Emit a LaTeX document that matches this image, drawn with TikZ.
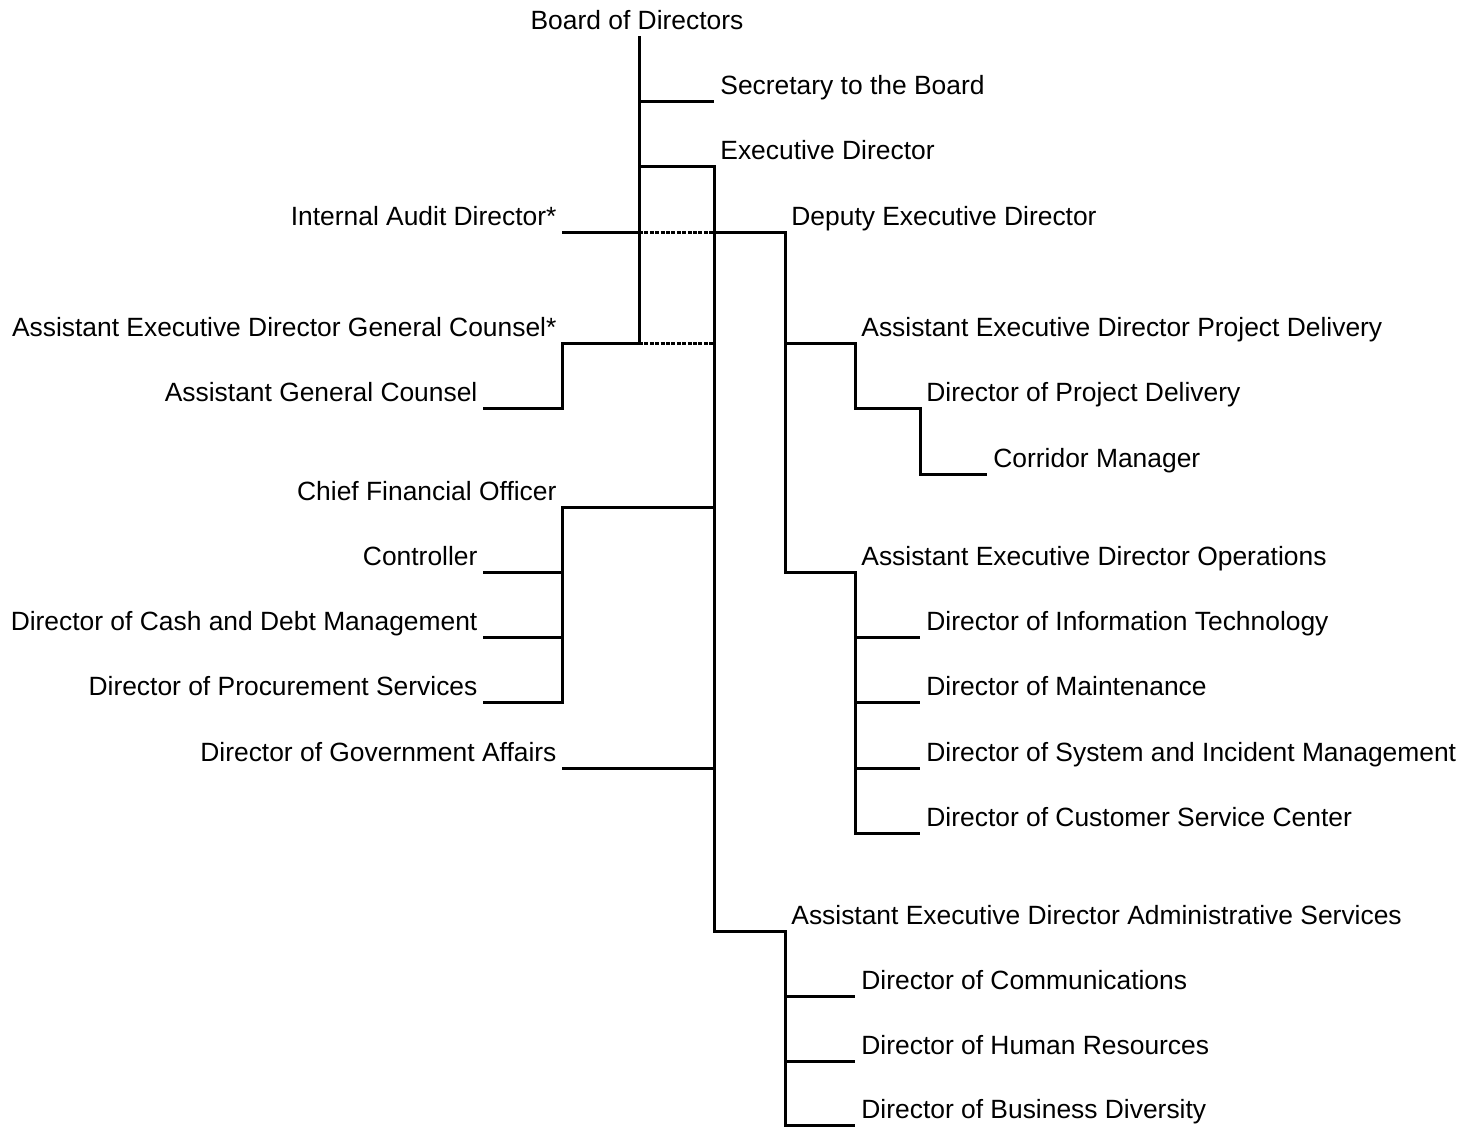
\documentclass[tikz,border=0pt]{standalone}
\usepackage{fontspec}
\setmainfont{Liberation Sans}
\usepackage{tikz}

\begin{document}
\begin{tikzpicture}[x=0.5pt,y=-0.5pt,
  font=\fontsize{13.2}{16}\selectfont,
  rt/.style={anchor=south west,inner xsep=3pt,inner ysep=0pt,text depth=3pt},
  lt/.style={anchor=south east,inner xsep=2.6pt,inner ysep=0pt,text depth=3pt},
  ln/.style={line width=1.5pt},
  dot/.style={line width=1.5pt,dash pattern=on 2pt off 0.7pt}]

  \useasboundingbox (0,0) rectangle (1478,1126);

  % board and direct reports
  \node[anchor=south,inner sep=0pt,text depth=3pt] (bod) at (637,36) {Board of Directors};
  \coordinate (top) at (639,36);
  \node[rt] (sec) at (714,101) {Secretary to the Board};
  \node[rt] (ed) at (714,166) {Executive Director};
  \node[lt] (ia) at (562,232) {Internal Audit Director*};
  \node[rt] (ded) at (785,232) {Deputy Executive Director};
  \node[lt] (gc) at (562,343) {Assistant Executive Director General Counsel*};
  \node[lt] (agc) at (483,408) {Assistant General Counsel};

  % deputy branch
  \node[rt] (pd) at (855,343) {Assistant Executive Director Project Delivery};
  \node[rt] (dpd) at (920,408) {Director of Project Delivery};
  \node[rt] (cm) at (987,474) {Corridor Manager};
  \node[rt] (ops) at (855,572) {Assistant Executive Director Operations};
  \node[rt] (it) at (920,637) {Director of Information Technology};
  \node[rt] (mnt) at (920,702) {Director of Maintenance};
  \node[rt] (sim) at (920,768) {Director of System and Incident Management};
  \node[rt] (csc) at (920,833) {Director of Customer Service Center};

  % finance branch
  \node[lt] (cfo) at (562,507) {Chief Financial Officer};
  \node[lt] (ctl) at (483,572) {Controller};
  \node[lt] (cash) at (483,637) {Director of Cash and Debt Management};
  \node[lt] (proc) at (483,702) {Director of Procurement Services};
  \node[lt] (ga) at (562,768) {Director of Government Affairs};

  % administrative branch
  \node[rt] (adm) at (785,931) {Assistant Executive Director Administrative Services};
  \node[rt] (com) at (855,996) {Director of Communications};
  \node[rt] (hr) at (855,1061) {Director of Human Resources};
  \node[rt] (bd) at (855,1125) {Director of Business Diversity};

  % connectors
  \draw[ln] (top) |- (gc.south east) |- (agc.south east);
  \draw[ln] (top |- sec.south west) -- (sec.south west);
  \draw[ln] (top |- ed.south west) -- (ed.south west) |- (adm.south west) |- (bd.south west);
  \draw[ln] (ia.south east) -- (top |- ia.south east);
  \draw[dot] (top |- ia.south east) -- (ed.south west |- ia.south east);
  \draw[dot] (top |- gc.south east) -- (ed.south west |- gc.south east);
  \draw[ln] (ed.south west |- ded.south west) -- (ded.south west) |- (ops.south west) |- (csc.south west);
  \draw[ln] (ded.south west |- pd.south west) -- (pd.south west) |- (dpd.south west) |- (cm.south west);
  \foreach \n in {it,mnt,sim}
    \draw[ln] (ops.south west |- \n.south west) -- (\n.south west);
  \draw[ln] (ed.south west |- cfo.south east) -- (cfo.south east) |- (proc.south east);
  \foreach \n in {ctl,cash}
    \draw[ln] (cfo.south east |- \n.south east) -- (\n.south east);
  \draw[ln] (ga.south east) -- (ed.south west |- ga.south east);
  \foreach \n in {com,hr}
    \draw[ln] (adm.south west |- \n.south west) -- (\n.south west);
\end{tikzpicture}
\end{document}
